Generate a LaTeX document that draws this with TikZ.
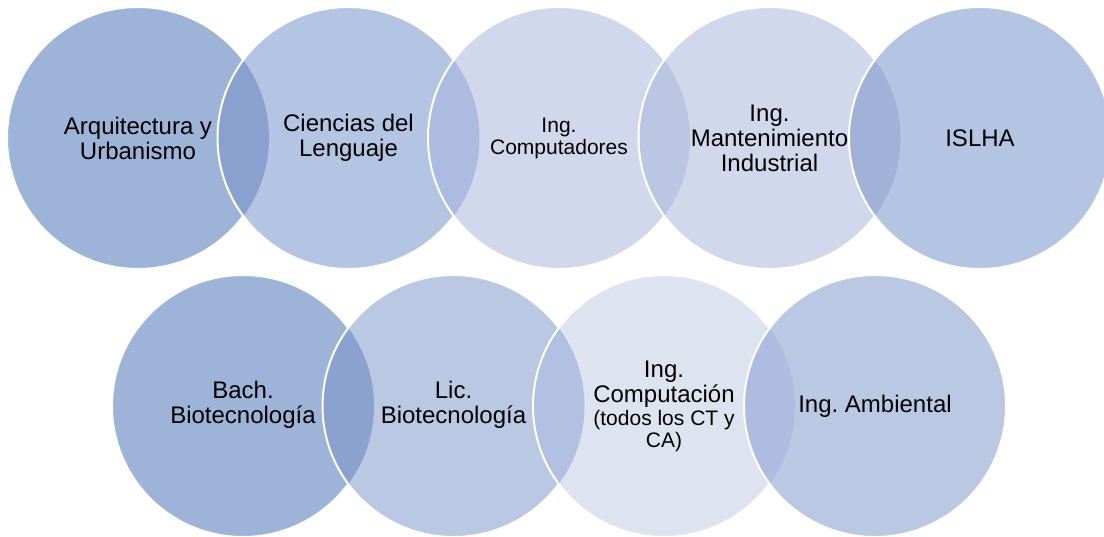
\documentclass[tikz,border=0pt]{standalone}
\usepackage{fontspec}
\setmainfont{Liberation Sans}
\frenchspacing
\definecolor{cA}{HTML}{9EB3D8}
\definecolor{cB}{HTML}{B4C4E3}
\definecolor{cC}{HTML}{D1D8EC}
\definecolor{cD}{HTML}{BAC8E4}
\definecolor{cE}{HTML}{DEE3F0}
\definecolor{lAB}{HTML}{8AA1CF}
\definecolor{lBC}{HTML}{ACBBDF}
\definecolor{lCC}{HTML}{BBC6E3}
\definecolor{lCB}{HTML}{A0B2D8}
\definecolor{lAD}{HTML}{8BA2D0}
\definecolor{lDE}{HTML}{B2C0E1}
\definecolor{lED}{HTML}{AEBCDF}
\tikzset{
  disc/.style={circle, minimum size=262pt, inner sep=0pt, fill=#1},
  rim/.style={white, line width=2pt},
  lbl/.style={align=center, text=black, inner sep=0pt, font=\fontsize{24}{25}\selectfont},
  lblsm/.style={align=center, text=black, inner sep=0pt, font=\fontsize{21}{22}\selectfont}
}
\begin{document}
\begin{tikzpicture}[x=1pt,y=-1pt]
\useasboundingbox (0,0) rectangle (1104,537);
% top row
\node[disc=cA] (c1) at (138,138) {};
\draw[rim] (c1.center) circle (131);
\node[disc=cB] (c2) at (348.5,138) {};
\begin{scope}\clip (c1.center) circle (131); \fill[lAB] (c2.center) circle (131);\end{scope}
\draw[rim] (c2.center) circle (131);
\node[disc=cC] (c3) at (559,138) {};
\begin{scope}\clip (c2.center) circle (131); \fill[lBC] (c3.center) circle (131);\end{scope}
\draw[rim] (c3.center) circle (131);
\node[disc=cC] (c4) at (769.5,138) {};
\begin{scope}\clip (c3.center) circle (131); \fill[lCC] (c4.center) circle (131);\end{scope}
\draw[rim] (c4.center) circle (131);
\node[disc=cB] (c5) at (980,138) {};
\begin{scope}\clip (c4.center) circle (131); \fill[lCB] (c5.center) circle (131);\end{scope}
\draw[rim] (c5.center) circle (131);
% bottom row
\node[disc=cA] (c6) at (243,406) {};
\draw[rim] (c6.center) circle (131);
\node[disc=cD] (c7) at (453.5,406) {};
\begin{scope}\clip (c6.center) circle (131); \fill[lAD] (c7.center) circle (131);\end{scope}
\draw[rim] (c7.center) circle (131);
\node[disc=cE] (c8) at (664,406) {};
\begin{scope}\clip (c7.center) circle (131); \fill[lDE] (c8.center) circle (131);\end{scope}
\draw[rim] (c8.center) circle (131);
\node[disc=cD] (c9) at (875,406) {};
\begin{scope}\clip (c8.center) circle (131); \fill[lED] (c9.center) circle (131);\end{scope}
\draw[rim] (c9.center) circle (131);
% labels
\node[lbl] (t1) at (138,138) {Arquitectura y\\Urbanismo};
\node[lbl] (t2) at (348.5,138) {Ciencias del\\Lenguaje};
\node[lblsm] (t3) at (559,138) {Ing.\\Computadores};
\node[lbl] (t4) at (769.5,138) {Ing.\\Mantenimiento\\Industrial};
\node[lbl] (t5) at (980,138) {ISLHA};
\node[lbl] (t6) at (243,405) {Bach.\\Biotecnología};
\node[lbl] (t7) at (453.5,405) {Lic.\\Biotecnología};
\node[lbl] (t8) at (664,384) {Ing.\\Computación};
\node[lblsm] (t8b) at (664,431) {(todos los CT y\\CA)};
\node[lbl] (t9) at (875,406) {Ing. Ambiental};
\end{tikzpicture}
\end{document}
